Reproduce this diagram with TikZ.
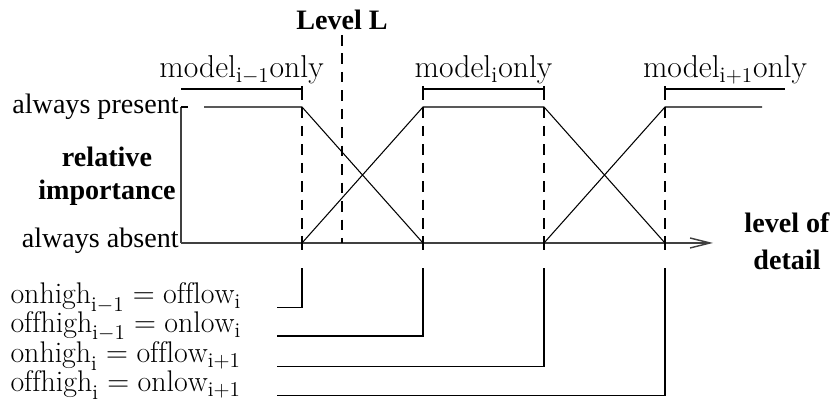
\documentclass[tikz,border=0pt]{standalone}
\usepackage{fontspec}
\newfontfamily\tms{Liberation Serif}
\usetikzlibrary{arrows.meta,calc}

\begin{document}
\begin{tikzpicture}[font=\fontsize{17}{20}\selectfont,line width=0.6pt,
  lbl/.style={font=\fontsize{16}{19}\selectfont\tms},
  hdr/.style={font=\fontsize{16}{19}\selectfont\tms\bfseries,align=center},
  cond/.style={anchor=base west,inner sep=0pt,text height=11pt,text depth=3.5pt},
  guide/.style={dash pattern=on 6pt off 4.5pt},
  axis/.style={line width=0.8pt,black!75}]
  \useasboundingbox (-3.62,-3.32) rectangle (12.98,4.86);

  % axes
  \draw[axis] (0,2.72) -- (0,0);
  \draw[axis,-{Straight Barb[length=4mm,width=2mm]}] (0,0) -- (10.64,0);
  \draw (0,2.72) -- (0.14,2.72);
  \node[lbl,anchor=east,inner sep=1pt] (pres) at (0,2.72) {always present};
  \node[lbl,anchor=east,inner sep=1pt] (abs) at (0,0.04) {always absent};
  \node[hdr] (imp) at (-1.48,1.33) {relative\\importance};
  \node[hdr] (lod) at (12.12,0.04) {level of\\[2pt]detail};

  % level L
  \node[hdr] (lvl) at (3.22,4.46) {Level L};
  \draw[guide] (3.22,4.16) -- (3.22,0);

  % switch points
  \foreach \i/\x in {1/2.42,2/4.84,3/7.26,4/9.68} {
    \coordinate (s\i) at (\x,0);
    \coordinate (b\i) at (\x,-0.5);
    \draw[guide] (\x,3.08) -- (\x,-0.14);
    \draw (\x,0.14) -- (\x,-0.14);
  }

  % importance of each model
  \draw (0.46,2.72) -- (2.42,2.72) -- (4.84,0);
  \draw (2.42,0) -- (4.84,2.72) -- (7.26,2.72) -- (9.68,0);
  \draw (7.26,0) -- (9.68,2.72) -- (11.62,2.72);

  % ranges where one model alone is used
  \draw (0,3.08) -- (2.42,3.08);
  \draw (4.84,3.08) -- (7.26,3.08);
  \draw (9.68,3.08) -- (12.08,3.08);
  \foreach \x in {2.42,4.84,7.26,9.68}
    \draw (\x,3.14) -- (\x,2.96);
  \node[anchor=base,font=\fontsize{18}{21}\selectfont] (m1) at (1.21,3.3) {model$_{\mathrm{i}-1}$only};
  \node[anchor=base,font=\fontsize{18}{21}\selectfont] (m2) at (6.05,3.3) {model$_{\mathrm{i}}$only};
  \node[anchor=base,font=\fontsize{18}{21}\selectfont] (m3) at (10.88,3.3) {model$_{\mathrm{i}+1}$only};

  % thresholds
  \coordinate (lx) at (1.92,0);
  \node[cond] (r1) at (-3.42,-1.22)
    {$\mathrm{onhigh}_{\mathrm{i}-1}=\mathrm{offlow}_{\mathrm{i}}$};
  \node[cond] (r2) at (-3.42,-1.79)
    {$\mathrm{offhigh}_{\mathrm{i}-1}=\mathrm{onlow}_{\mathrm{i}}$};
  \node[cond] (r3) at (-3.42,-2.40)
    {$\mathrm{onhigh}_{\mathrm{i}}=\mathrm{offlow}_{\mathrm{i}+1}$};
  \node[cond] (r4) at (-3.42,-2.98)
    {$\mathrm{offhigh}_{\mathrm{i}}=\mathrm{onlow}_{\mathrm{i}+1}$};
  \foreach \i in {1,...,4}
    \draw ($(r\i.base -| lx)+(0,-0.07)$) -| (b\i);
\end{tikzpicture}
\end{document}
